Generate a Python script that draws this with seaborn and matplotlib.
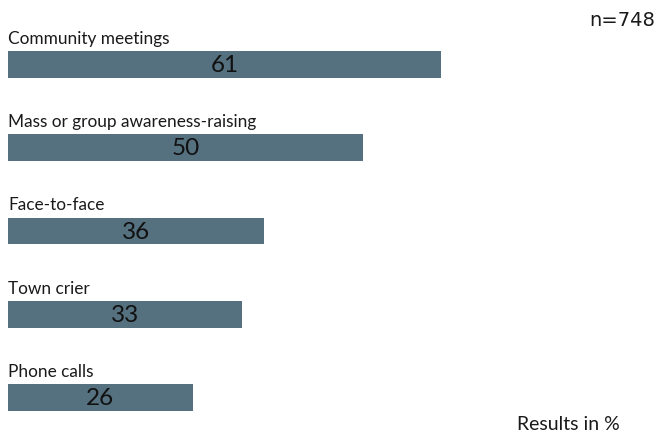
import matplotlib
matplotlib.use("Agg")
import matplotlib.pyplot as plt
import seaborn as sns
import pandas as pd

categories = ["Community meetings", "Mass or group awareness-raising",
              "Face-to-face", "Town crier", "Phone calls"]
values = [61, 50, 36, 33, 26]
sample_note = "n=748"
unit_note = "Results in %"

sns.set_theme(style="white")
plt.rcParams['font.family'] = ['Lato', 'DejaVu Sans']

df = pd.DataFrame({"cat": categories, "val": values})

fig = plt.figure(figsize=(6.58, 4.34), dpi=100)
ax = fig.add_axes([8/658, 0, 650/658, 1])
bar_h = 0.324
sns.barplot(data=df, y="cat", x="val", orient="h", color="#55707f",
            saturation=1, width=bar_h, linewidth=0, ax=ax)
ax.set_xlim(0, 650/7.1)
ax.set_ylim(4 + 36.5/83.25, -64.5/83.25)
ax.axis("off")

for i, (c, v) in enumerate(zip(categories, values)):
    ax.text(0, i - bar_h/2 - 0.05, c, ha="left", va="bottom",
            fontsize=12.4, color="#1a1a1a")
    ax.text(v/2, i + 0.015, str(v), ha="center", va="center",
            fontsize=17.5, color="#111111")

fig.text(655/658, 1 - 21/434, sample_note, ha="right", va="center",
         fontsize=14, color="#1a1a1a", family="DejaVu Sans")
fig.text(620/658, 1 - 425/434, unit_note, ha="right", va="center",
         fontsize=14, color="#1a1a1a")

fig.savefig("out.png", dpi=100)
